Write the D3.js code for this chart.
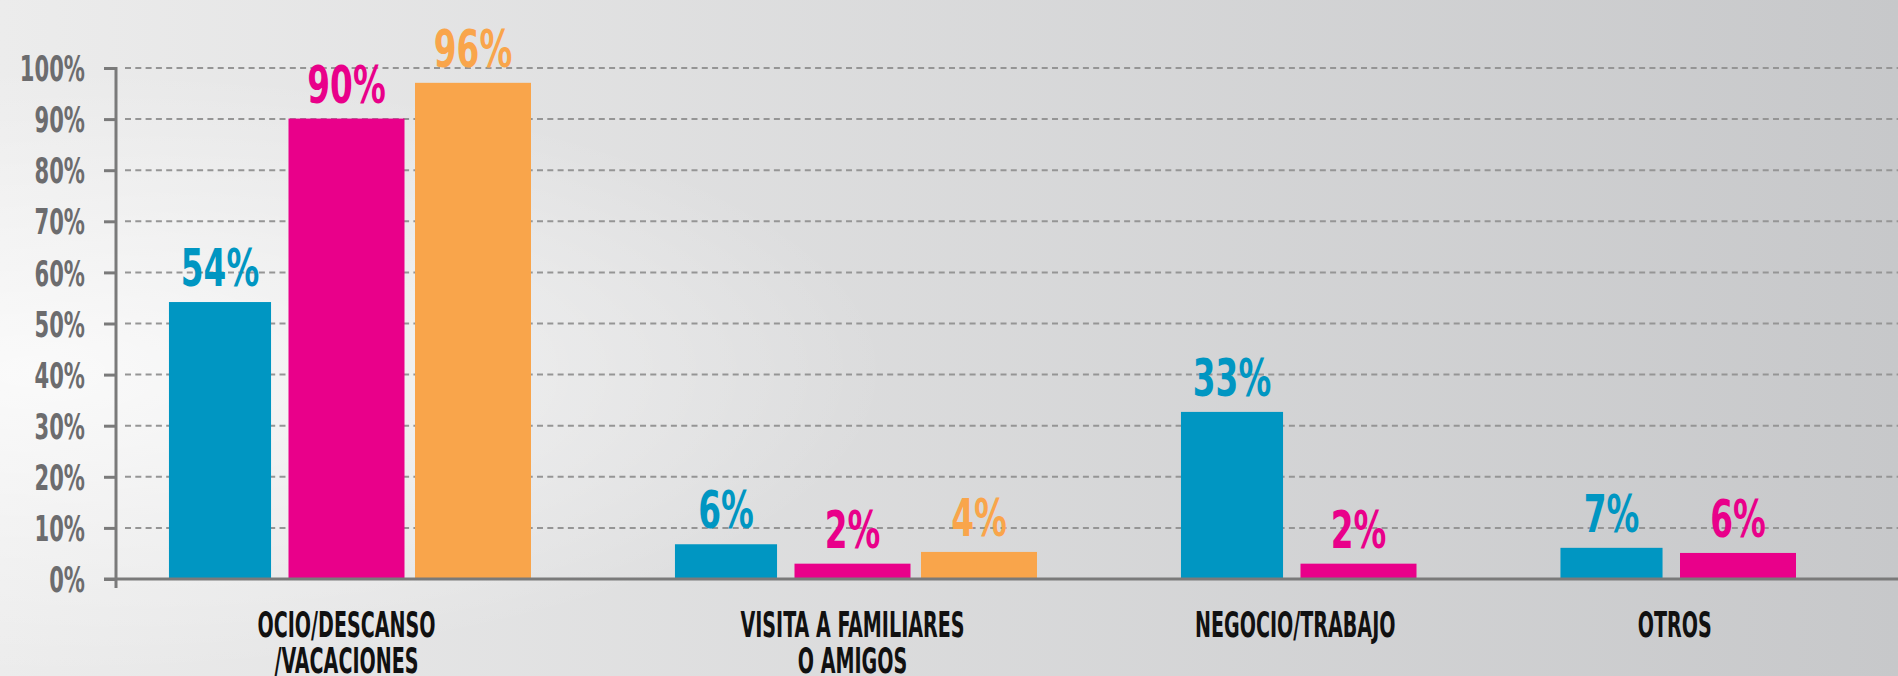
<!DOCTYPE html>
<html>
<head>
<meta charset="utf-8">
<script src="https://cdn.jsdelivr.net/npm/d3@7"></script>
<style>
  body { margin: 0; overflow: hidden; }
  text { font-family: "Liberation Sans Narrow", "DejaVu Sans Condensed", "Liberation Sans", sans-serif; }
</style>
</head>
<body>
<div id="chart"></div>
<script>
// data
var categories = ["OCIO/DESCANSO\n/VACACIONES", "VISITA A FAMILIARES\nO AMIGOS", "NEGOCIO/TRABAJO", "OTROS"];
var seriesColors = ["#0096c2", "#e9008a", "#f9a54b"];
var values1 = [54.2, 6.8, 32.7, 6.1];
var values2 = [90.1, 3.0, 3.0, 5.1];
var values3 = [97.1, 5.3, null, null];
var labels1 = ["54%", "6%", "33%", "7%"];
var labels2 = ["90%", "2%", "2%", "6%"];
var labels3 = ["96%", "4%", "", ""];
var yTicks = [0, 10, 20, 30, 40, 50, 60, 70, 80, 90, 100];

var W = 1898, H = 676;
var margin = {top: 68, left: 116, bottom: 97};
var axisY = H - margin.bottom;
var seriesWidth = [0.88, 1, 1];

var svg = d3.select("#chart").append("svg")
    .attr("width", W)
    .attr("height", H);

// background
var defs = svg.append("defs");
var lg = defs.append("linearGradient").attr("id", "bg").attr("x1", 0).attr("x2", 1).attr("y1", 0).attr("y2", 0);
lg.append("stop").attr("offset", "0%").attr("stop-color", "#ececec");
lg.append("stop").attr("offset", "100%").attr("stop-color", "#c7c8ca");
var rg = defs.append("radialGradient").attr("id", "glow")
    .attr("cx", 0.02).attr("cy", 0.55).attr("r", 0.45);
rg.append("stop").attr("offset", "0%").attr("stop-color", "#ffffff").attr("stop-opacity", 0.75);
rg.append("stop").attr("offset", "100%").attr("stop-color", "#ffffff").attr("stop-opacity", 0);
svg.append("rect").attr("width", W).attr("height", H).attr("fill", "url(#bg)");
svg.append("rect").attr("width", W).attr("height", H).attr("fill", "url(#glow)");

// rows of bars, one empty slot between groups
var slot = 0;
var rows = categories.map(function(c, i) {
  var list = [
    {v: values1[i], label: labels1[i], s: 0},
    {v: values2[i], label: labels2[i], s: 1},
    {v: values3[i], label: labels3[i], s: 2}
  ].filter(function(d) { return d.v !== null; });
  list.forEach(function(d) { d.slot = slot++; });
  slot++;
  return {cat: c, bars: list};
});
var allBars = [];
rows.forEach(function(r) { allBars = allBars.concat(r.bars); });

// scales
var y = d3.scaleLinear().domain([0, 100]).range([axisY, margin.top]);
var x = d3.scaleBand().domain(d3.range(slot - 1)).range([162, 1796])
    .paddingInner(0.083).paddingOuter(0);
function barX(d) { return x(d.slot) + x.bandwidth() * (1 - seriesWidth[d.s]) / 2; }
function barMid(d) { return x(d.slot) + x.bandwidth() / 2; }

// gridlines
svg.append("g").selectAll("line")
    .data(yTicks.filter(function(d) { return d > 0; }))
    .enter().append("line")
    .attr("x1", margin.left + 9).attr("x2", W)
    .attr("y1", function(d) { return y(d); })
    .attr("y2", function(d) { return y(d); })
    .attr("stroke", "#959595")
    .attr("stroke-width", 2)
    .attr("stroke-dasharray", "6,4.3");

// bars
svg.append("g").selectAll("rect")
    .data(allBars)
    .enter().append("rect")
    .attr("x", barX)
    .attr("width", function(d) { return x.bandwidth() * seriesWidth[d.s]; })
    .attr("y", function(d) { return y(d.v); })
    .attr("height", function(d) { return y(0) - y(d.v); })
    .attr("fill", function(d) { return seriesColors[d.s]; });

// value labels
svg.append("g").selectAll("text")
    .data(allBars)
    .enter().append("text")
    .attr("transform", function(d) {
      return "translate(" + barMid(d) + "," + (y(d.v) - 16) + ") scale(0.7,1)";
    })
    .attr("text-anchor", "middle")
    .attr("font-size", 52)
    .attr("font-weight", "bold")
    .attr("fill", function(d) { return seriesColors[d.s]; })
    .text(function(d) { return d.label; });

// y axis
var yAxis = svg.append("g")
    .attr("transform", "translate(" + margin.left + ",0)")
    .call(d3.axisLeft(y).tickValues(yTicks).tickSize(12).tickSizeOuter(0)
      .tickFormat(function(d) { return d + "%"; }));
yAxis.select(".domain").remove();
yAxis.selectAll(".tick line").attr("stroke", "#7a7a7a").attr("stroke-width", 3);
yAxis.selectAll(".tick text")
    .attr("x", null).attr("dy", "0.36em")
    .attr("transform", "translate(-31,0) scale(0.67,1)")
    .attr("font-size", 35)
    .attr("font-weight", "bold")
    .attr("fill", "#6c6c6e")
    .attr("text-anchor", "end");

svg.append("line")
    .attr("x1", margin.left).attr("x2", margin.left)
    .attr("y1", y(100) - 1).attr("y2", y(0) + 9)
    .attr("stroke", "#7a7a7a").attr("stroke-width", 3);
svg.append("line")
    .attr("x1", margin.left - 12).attr("x2", W)
    .attr("y1", y(0)).attr("y2", y(0))
    .attr("stroke", "#7a7a7a").attr("stroke-width", 3);

// category labels, centred under their bars
svg.append("g").selectAll("text")
    .data(rows)
    .enter().append("text")
    .attr("transform", function(r) {
      var cx = d3.mean(r.bars, barMid);
      return "translate(" + cx + "," + (axisY + 58) + ") scale(0.59,1)";
    })
    .attr("text-anchor", "middle")
    .attr("font-size", 36)
    .attr("font-weight", "bold")
    .attr("fill", "#111")
    .each(function(r) {
      var t = d3.select(this);
      r.cat.split("\n").forEach(function(line, i) {
        t.append("tspan").attr("x", 0).attr("dy", i === 0 ? 0 : 36).text(line);
      });
    });
</script>
</body>
</html>
